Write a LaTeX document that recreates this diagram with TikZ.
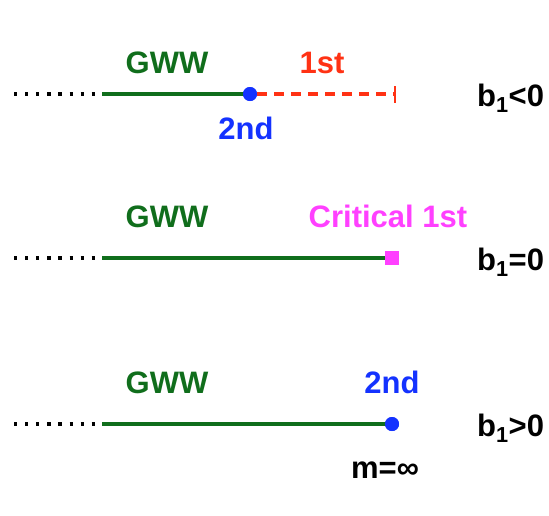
\documentclass[tikz,border=0pt]{standalone}
\usepackage{fontspec}
\setmainfont{Liberation Sans}
\definecolor{gwwgreen}{RGB}{16,110,28}
\definecolor{secblue}{RGB}{20,50,255}
\definecolor{firstred}{RGB}{255,50,20}
\definecolor{critpink}{RGB}{255,64,255}
\begin{document}
\begin{tikzpicture}[x=1pt,y=-1pt,
  lbl/.style={font=\fontsize{31}{34}\selectfont\bfseries, inner sep=0pt, anchor=base},
  dotline/.style={line width=3.2pt, dash pattern=on 3.2pt off 7.9pt},
  gwwline/.style={gwwgreen, line width=3.6pt},
  firstline/.style={firstred, line width=3.4pt, dash pattern=on 10pt off 7pt},
  bdot/.style={circle, fill=secblue, minimum size=14pt, inner sep=0pt},
  psq/.style={rectangle, fill=critpink, minimum size=14pt, inner sep=0pt}]
\useasboundingbox (0,0) rectangle (549,515);
% row 1
\coordinate (a1) at (14,94);
\coordinate (b1) at (102,94);
\node[bdot] (d1) at (250,94) {};
\coordinate (e1) at (395,94);
\coordinate (t1a) at (395,86);
\coordinate (t1b) at (395,103);
\draw[dotline] (a1) -- (b1);
\draw[gwwline] (b1) -- (d1.center);
\draw[firstline] (d1.east) -- (e1);
\draw[firstred, line width=2.4pt] (t1a) -- (t1b);
\node[bdot] at (250,94) {};
\node[lbl, gwwgreen] (g1) at (167,73) {GWW};
\node[lbl, firstred] (f1) at (322,73) {1st};
\node[lbl, secblue] (s1) at (246,139) {2nd};
\node[lbl, anchor=base west] (r1) at (477,106) {b\textsubscript{1}<0};
% row 2
\coordinate (a2) at (14,258);
\coordinate (b2) at (102,258);
\node[psq] (d2) at (392,258) {};
\draw[dotline] (a2) -- (b2);
\draw[gwwline] (b2) -- (d2.center);
\node[psq] at (392,258) {};
\node[lbl, gwwgreen] (g2) at (167,227) {GWW};
\node[lbl, critpink] (c2) at (388,227) {Critical 1st};
\node[lbl, anchor=base west] (r2) at (477,270) {b\textsubscript{1}=0};
% row 3
\coordinate (a3) at (14,424);
\coordinate (b3) at (102,424);
\node[bdot] (d3) at (392,424) {};
\draw[dotline] (a3) -- (b3);
\draw[gwwline] (b3) -- (d3.center);
\node[bdot] at (392,424) {};
\node[lbl, gwwgreen] (g3) at (167,393) {GWW};
\node[lbl, secblue] (s3) at (392,393) {2nd};
\node[lbl, anchor=base west] (r3) at (477,436) {b\textsubscript{1}>0};
\node[lbl] (m3) at (385,478) {m=∞};
\end{tikzpicture}
\end{document}
